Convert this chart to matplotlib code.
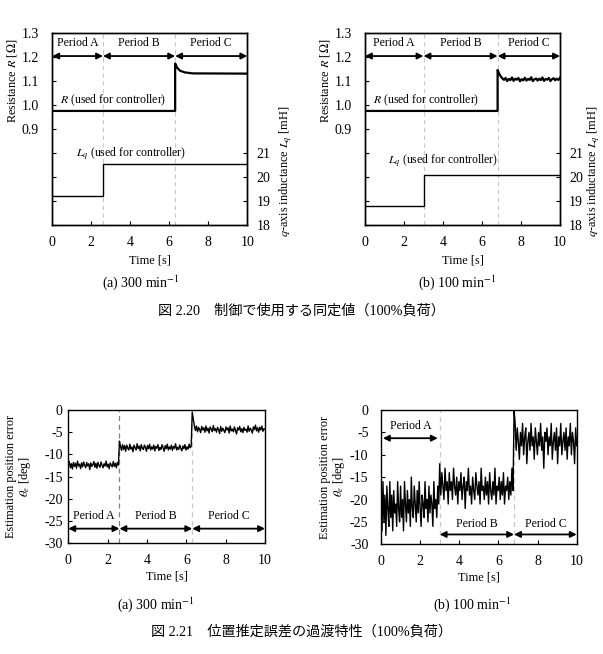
import numpy as np
import matplotlib.pyplot as plt

plt.rcParams['font.family'] = ['Liberation Serif', 'Noto Sans CJK JP']
plt.rcParams['mathtext.fontset'] = 'stix'
plt.rcParams['axes.unicode_minus'] = False
plt.rcParams['font.size'] = 8.5
plt.rcParams['axes.labelsize'] = 8.8

# --- Fig 2.20: identified values used by the controller ---
t_R_a = [0, 6.3, 6.3, 6.4, 6.55, 6.8, 7.2, 10]
R_a = [0.975, 0.975, 1.172, 1.155, 1.142, 1.135, 1.131, 1.130]
t_Lq_a = [0, 2.6, 2.6, 10]
Lq_a = [19.2, 19.2, 20.55, 20.55]
switch_a = [2.6, 6.3]

t_R_b_pre = [0, 6.8]
R_b_pre = [0.975, 0.975]
R_b_post = [1.145, 1.13, 1.118, 1.11, 1.104, 1.112, 1.099, 1.108, 1.103, 1.114,
            1.100, 1.109, 1.105, 1.112, 1.098, 1.107, 1.102, 1.113, 1.101, 1.108,
            1.104, 1.115, 1.099, 1.106, 1.110, 1.101, 1.109, 1.103, 1.114, 1.100,
            1.108, 1.105, 1.112, 1.099, 1.107, 1.111, 1.102, 1.109, 1.104, 1.113]
t_Lq_b = [0, 3.0, 3.0, 10]
Lq_b = [18.8, 18.8, 20.1, 20.1]
switch_b = [3.0, 6.8]

# --- Fig 2.21: position estimation error [deg] ---
errA_a = [-12.5, -11.6, -13.0, -12.1, -13.3, -11.8, -12.7, -12.0, -13.1, -11.5,
          -12.6, -12.2, -13.2, -11.9, -12.8, -11.7, -12.4, -13.0, -11.8, -12.6,
          -12.1, -13.4, -11.9, -12.7, -12.3, -11.6, -12.9, -12.0, -13.1, -11.8,
          -12.5, -12.9, -11.7, -12.4, -13.0, -12.1, -12.6, -11.5, -12.8, -12.2,
          -13.2, -11.9, -12.4, -12.8, -11.6, -12.7, -12.0, -13.0, -11.8, -12.4]
errB_a = [-7.0, -8.2, -9.1, -7.8, -8.9, -8.0, -9.3, -7.9, -8.6, -9.0,
          -7.7, -8.8, -8.3, -9.4, -7.9, -8.5, -9.0, -7.6, -8.7, -8.1,
          -9.2, -7.8, -8.6, -8.9, -7.9, -8.4, -9.3, -8.0, -8.7, -7.7,
          -9.0, -8.3, -8.8, -7.9, -9.2, -8.2, -8.6, -7.8, -9.1, -8.4,
          -8.9, -7.8, -8.5, -9.3, -8.0, -8.7, -7.7, -9.0, -8.3, -8.8,
          -7.9, -9.1, -8.2, -8.6, -7.6, -9.0, -8.4, -8.9, -7.9, -8.6,
          -9.2, -8.1, -8.7, -7.8, -9.0, -8.3, -8.8, -7.7, -8.5, -8.2]
errC_a = [-0.5, -2.0, -3.5, -4.6, -3.6, -4.9, -3.9, -4.4, -5.1, -3.7,
          -4.5, -4.0, -5.0, -3.6, -4.7, -4.1, -5.2, -3.8, -4.3, -4.9,
          -3.5, -4.6, -4.2, -5.0, -3.9, -4.4, -5.3, -3.7, -4.8, -4.1,
          -4.6, -5.1, -3.8, -4.5, -4.0, -5.2, -3.6, -4.7, -4.3, -4.9,
          -3.8, -4.6, -5.4, -4.0, -4.5, -3.7, -4.9, -4.2, -5.1, -3.9,
          -4.6, -4.3, -5.0, -3.6, -4.8, -4.1, -4.5, -5.2, -3.8, -4.4,
          -3.4, -4.7, -4.0, -5.0, -3.9, -4.5, -3.6, -4.8, -4.2, -4.4]

errA_b = [-18, -27, -16, -25, -19, -28, -17, -22, -26, -16, -24, -19, -27, -18, -23,
          -21, -26, -16, -22, -25, -17, -24, -20, -27, -16, -21, -25, -18, -23, -20,
          -26, -15, -22, -24, -17, -21, -25, -18, -23, -16, -22, -26, -19, -21, -24,
          -16, -22, -20, -25, -17, -23, -19, -21, -26, -16, -22, -20, -24, -17, -21]
errB_b = [-12, -19, -14, -17, -20, -13, -18, -16, -21, -14, -18, -16, -20, -13, -17,
          -19, -15, -21, -16, -18, -14, -20, -17, -15, -22, -16, -18, -13, -19, -17,
          -21, -15, -18, -20, -14, -17, -19, -16, -21, -13, -18, -17, -20, -15, -19,
          -16, -21, -14, -18, -20, -16, -19, -13, -21, -17, -18, -15, -20, -16, -19,
          -14, -21, -17, -18, -15, -20, -16, -19, -13, -18]
errC_b = [0, -3, -9, -4, -7, -11, -5, -8, -3, -10, -6, -4, -12, -7, -5,
          -9, -3, -8, -6, -11, -4, -7, -10, -5, -8, -3, -9, -6, -13, -5,
          -7, -4, -10, -6, -8, -3, -11, -7, -5, -9, -4, -12, -6, -8, -3,
          -10, -7, -5, -9, -4, -11, -6, -8, -3, -10, -5, -7, -12, -4, -8]

W, H = 603, 654
fig = plt.figure(figsize=(W / 100, H / 100), dpi=100)


def rect(l, t, r, b):
    return [l / W, 1 - b / H, (r - l) / W, (b - t) / H]


def period_arrow(ax, x0, x1, y, label, ly):
    ax.annotate('', xy=(x1, y), xytext=(x0, y),
                arrowprops=dict(arrowstyle='<|-|>', color='k', lw=1.3,
                                mutation_scale=9, shrinkA=0, shrinkB=0))
    ax.text((x0 + x1) / 2, ly, label, ha='center', va='center')


def style(ax, ypad):
    ax.tick_params(direction='in', length=3, width=0.8, labelsize=10)
    ax.tick_params(axis='x', pad=8)
    ax.tick_params(axis='y', pad=ypad)
    for s in ax.spines.values():
        s.set_linewidth(1.0)


def draw_top(box, tR, R, tL, L, sw, r_txt, lq_txt, rlab_x):
    ax = fig.add_axes(box)
    for x in sw:
        ax.axvline(x, color='#c8c8c8', ls=(0, (4, 3)), lw=0.8)
    ax.plot(tR, R, color='k', lw=1.6)
    ax.set_xlim(0, 10)
    ax.set_ylim(0.5, 1.3)
    ax.set_xticks(range(0, 11, 2))
    ax.set_yticks(np.linspace(0.5, 1.3, 9))
    ax.set_yticklabels(['', '', '', '', '0.9', '1.0', '1.1', '1.2', '1.3'])
    ax.set_xlabel('Time [s]', labelpad=4)
    ax.set_ylabel(r'Resistance $R$ [$\Omega$]', va='center')
    ax.yaxis.set_label_coords(-0.205, 0.75)
    style(ax, 9.5)
    bounds = [0] + sw + [10]
    for i, name in enumerate(['Period A', 'Period B', 'Period C']):
        period_arrow(ax, bounds[i], bounds[i + 1], 1.203, name, 1.256)
    ax.text(0.4, r_txt, r'$R$ (used for controller)', va='center')

    ax2 = ax.twinx()
    ax2.plot(tL, L, color='k', lw=1.0)
    ax2.set_ylim(18, 26)
    ax2.set_yticks([18, 19, 20, 21])
    ax2.set_ylabel(r'$q$-axis inductance $L_q$ [mH]', va='center')
    ax2.yaxis.set_label_coords(rlab_x, 0.28)
    style(ax2, 6.5)
    ax2.text(1.2, lq_txt, r'$L_q$ (used for controller)', va='center')
    return ax


draw_top(rect(52.3, 32.7, 247.3, 225.3), t_R_a, R_a, t_Lq_a, Lq_a, switch_a, 1.02, 20.97, 1.20)
t_R_b = t_R_b_pre + list(np.linspace(6.8, 10, len(R_b_post)))
draw_top(rect(365, 32.7, 560, 225.3), t_R_b, R_b_pre + R_b_post, t_Lq_b, Lq_b, switch_b,
         1.02, 20.68, 1.175)


def draw_bottom(box, segs, sw, sw_colors, ypad, lab_x):
    ax = fig.add_axes(box)
    for x, c in zip(sw, sw_colors):
        ax.axvline(x, color=c, ls=(0, (4, 3)), lw=0.9)
    bounds = [0] + sw + [10]
    t_all, e_all = [], []
    for i, seg in enumerate(segs):
        t_all += list(np.linspace(bounds[i], bounds[i + 1], len(seg), endpoint=(i == 2)))
        e_all += seg
    ax.plot(t_all, e_all, color='k', lw=1.0)
    ax.set_xlim(0, 10)
    ax.set_ylim(-30, 0)
    ax.set_xticks(range(0, 11, 2))
    ax.set_yticks(range(-30, 1, 5))
    ax.set_xlabel('Time [s]', labelpad=2)
    ax.set_ylabel('Estimation position error\n' + r'$\theta_e$ [deg]', linespacing=1.0,
                  va='center')
    ax.yaxis.set_label_coords(lab_x, 0.5)
    style(ax, ypad)
    return ax


axa = draw_bottom(rect(68.3, 410, 265, 543.3), [errA_a, errB_a, errC_a], switch_a,
                  ['#808080', '#c8c8c8'], 4, -0.25)
bnd = [0] + switch_a + [10]
for i, name in enumerate(['Period A', 'Period B', 'Period C']):
    period_arrow(axa, bnd[i], bnd[i + 1], -26.7, name, -23.8)

axb = draw_bottom(rect(381, 410, 576.7, 544.3), [errA_b, errB_b, errC_b], switch_b,
                  ['#c8c8c8', '#c8c8c8'], 9, -0.245)
period_arrow(axb, 0.1, 2.9, -6.3, 'Period A', -3.6)
period_arrow(axb, 3.0, 6.8, -27.8, 'Period B', -25.5)
period_arrow(axb, 6.8, 10, -27.8, 'Period C', -25.5)

# captions
sub_fs, cap_fs = 10, 10.2
fig.text(141 / W, 1 - 283 / H, r'(a) 300 min$^{-1}$', ha='center', va='center', fontsize=sub_fs)
fig.text(457 / W, 1 - 283 / H, r'(b) 100 min$^{-1}$', ha='center', va='center', fontsize=sub_fs)
fig.text(301 / W, 1 - 311 / H, '図 2.20　制御で使用する同定値（100%負荷）',
         ha='center', va='center', fontsize=cap_fs)
fig.text(156 / W, 1 - 605 / H, r'(a) 300 min$^{-1}$', ha='center', va='center', fontsize=sub_fs)
fig.text(472 / W, 1 - 605 / H, r'(b) 100 min$^{-1}$', ha='center', va='center', fontsize=sub_fs)
fig.text(302 / W, 1 - 632 / H, '図 2.21　位置推定誤差の過渡特性（100%負荷）',
         ha='center', va='center', fontsize=cap_fs)

fig.savefig('out.png', dpi=100)
